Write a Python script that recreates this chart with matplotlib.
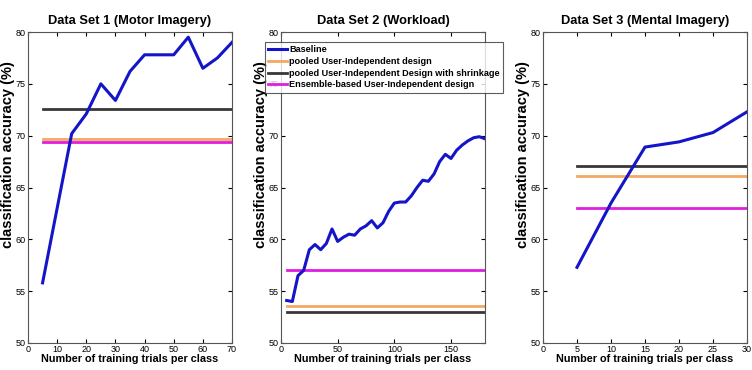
import numpy as np
import matplotlib.pyplot as plt

plt.rcParams['font.family'] = ['Liberation Sans', 'DejaVu Sans']

# data set 1 (motor imagery)
trials1 = [5, 10, 15, 20, 25, 30, 35, 40, 45, 50, 55, 60, 65, 70]
base1 = [55.8, 63.0, 70.2, 72.1, 75.0, 73.4, 76.2, 77.8, 77.8, 77.8, 79.5, 76.5, 77.5, 79.0]
pooled1 = 69.7
shrink1 = 72.6
ensemble1 = 69.4

# data set 2 (workload)
trials2 = list(range(5, 185, 5))
base2 = [54.1, 54.0, 56.5, 57.0, 59.0, 59.5, 59.0, 59.6, 61.0, 59.8,
         60.2, 60.5, 60.4, 61.0, 61.3, 61.8, 61.1, 61.6, 62.7, 63.5,
         63.6, 63.6, 64.2, 65.0, 65.7, 65.6, 66.3, 67.5, 68.2, 67.8,
         68.6, 69.1, 69.5, 69.8, 69.9, 69.7]
pooled2 = 53.6
shrink2 = 53.0
ensemble2 = 57.0

# data set 3 (mental imagery)
trials3 = [5, 10, 15, 20, 25, 30]
base3 = [57.3, 63.5, 68.9, 69.4, 70.3, 72.3]
pooled3 = 66.1
shrink3 = 67.1
ensemble3 = 63.0

titles = ["Data Set 1 (Motor Imagery)", "Data Set 2 (Workload)", "Data Set 3 (Mental Imagery)"]
labels = ["Baseline", "pooled User-Independent design",
          "pooled User-Independent Design with shrinkage",
          "Ensemble-based User-Independent design"]

c_base = "#1414c8"
c_pool = "#f4a862"
c_shrink = "#383838"
c_ens = "#e01ee0"

fig = plt.figure(figsize=(7.52, 3.70), dpi=100)
W = 752.0
H = 370.0
lefts = [28, 281, 543]
xlims = [70, 180, 30]
xticks = [np.arange(0, 71, 10), np.arange(0, 181, 50), np.arange(0, 31, 5)]
sets = [(trials1, base1, pooled1, shrink1, ensemble1),
        (trials2, base2, pooled2, shrink2, ensemble2),
        (trials3, base3, pooled3, shrink3, ensemble3)]

handles = None
for i in range(3):
    ax = fig.add_axes([lefts[i] / W, 27 / H, 204 / W, 311 / H])
    t, b, p, s, e = sets[i]
    x0, x1 = t[0], t[-1]
    h1, = ax.plot(t, b, color=c_base, lw=2.2, zorder=5)
    h2, = ax.plot([x0, x1], [p, p], color=c_pool, lw=2)
    h3, = ax.plot([x0, x1], [s, s], color=c_shrink, lw=2)
    h4, = ax.plot([x0, x1], [e, e], color=c_ens, lw=2)
    if handles is None:
        handles = [h1, h2, h3, h4]
    ax.set_xlim(0, xlims[i])
    ax.set_ylim(50, 80)
    ax.set_xticks(xticks[i])
    ax.set_yticks(np.arange(50, 81, 5))
    ax.tick_params(direction='in', top=True, right=True, labelsize=6.5, length=3, pad=1.5)
    ax.set_title(titles[i], fontsize=9.3, fontweight='bold', pad=6)
    ax.set_xlabel("Number of training trials per class", fontsize=7.8, fontweight='bold', labelpad=0)
    ax.set_ylabel("classification accuracy (%)", fontsize=10.5, fontweight='bold')
    ax.yaxis.set_label_coords(-13 / 204, 0.605)
    for sp in ax.spines.values():
        sp.set_color("#555555")
        sp.set_linewidth(0.8)

leg = fig.legend(handles, labels, loc='upper left',
                 bbox_to_anchor=(265 / W, 1 - 42 / H),
                 prop={'size': 6.6, 'weight': 'bold'}, frameon=True, fancybox=False,
                 handlelength=2.0, handletextpad=0.3, borderpad=0.35, labelspacing=0.3,
                 borderaxespad=0)
leg.get_frame().set_edgecolor("#333333")
leg.get_frame().set_linewidth(0.8)
leg.set_zorder(10)

fig.savefig("out.png", dpi=100)
